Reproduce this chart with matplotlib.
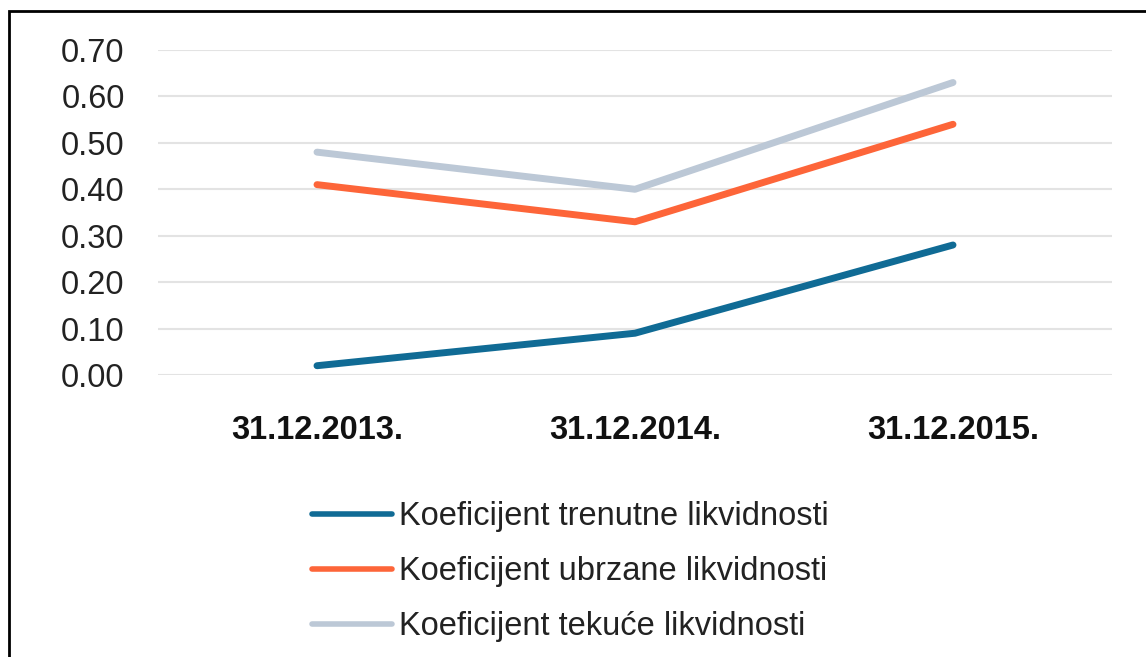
import matplotlib.pyplot as plt
from matplotlib.patches import Rectangle

plt.rcParams['font.family'] = ['Liberation Sans', 'DejaVu Sans']

# data
dates = ['31.12.2013.', '31.12.2014.', '31.12.2015.']
trenutne = [0.02, 0.09, 0.28]
ubrzane = [0.41, 0.33, 0.54]
tekuce = [0.48, 0.40, 0.63]
yticks = [0.0, 0.1, 0.2, 0.3, 0.4, 0.5, 0.6, 0.7]

fig = plt.figure(figsize=(11.46, 6.57), dpi=100)
ax = fig.add_axes([158 / 1146, 1 - 375 / 657, (1112 - 158) / 1146, (375 - 50) / 657])

x = range(len(dates))
ax.plot(x, trenutne, color='#106b95', lw=5, solid_capstyle='round', label='Koeficijent trenutne likvidnosti')
ax.plot(x, ubrzane, color='#fd6539', lw=5, solid_capstyle='round', label='Koeficijent ubrzane likvidnosti')
ax.plot(x, tekuce, color='#bcc8d6', lw=5, solid_capstyle='round', label='Koeficijent tekuće likvidnosti')

ax.set_xlim(-0.5, 2.5)
ax.set_ylim(0, 0.7)
ax.set_yticks(yticks)
ax.set_yticklabels([f'{v:.2f}' for v in yticks])
ax.set_xticks(list(x))
ax.set_xticklabels(dates, fontweight='bold')
ax.tick_params(axis='y', length=0, pad=24, labelsize=23.5, labelcolor='#222222')
ax.tick_params(axis='x', length=0, pad=29, labelsize=23.5, labelcolor='#111111')
ax.grid(axis='y', color='#e3e3e3', lw=1.5)
ax.set_axisbelow(True)
for s in ax.spines.values():
    s.set_visible(False)

leg = fig.legend(loc='upper left', bbox_to_anchor=(283 / 1146, 1 - 472 / 657),
                 frameon=False, fontsize=23.5, handlelength=2.45, handletextpad=0.2,
                 labelspacing=0.73)
for line in leg.get_lines():
    line.set_linewidth(4)
for t in leg.get_texts():
    t.set_color('#222222')

# outer frame (only top and left edges visible)
fig.add_artist(Rectangle((9 / 1146, -0.5), 2, 1.5 - 11 / 657, transform=fig.transFigure,
                         fill=False, edgecolor='black', lw=2))

fig.savefig('out.png', dpi=100)
